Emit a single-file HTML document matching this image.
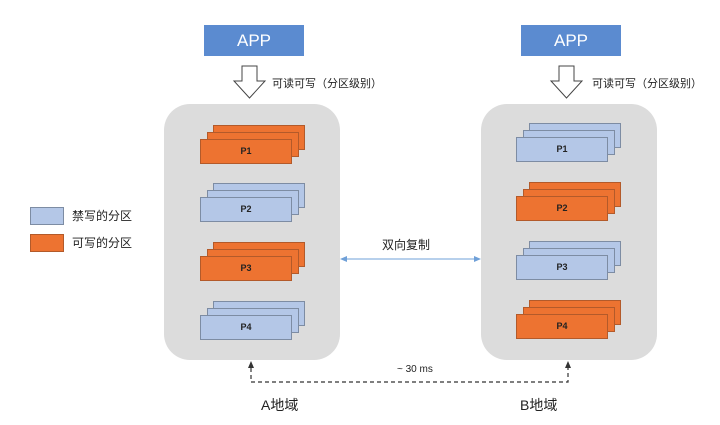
<!DOCTYPE html><html><head><style>
body{margin:0;width:720px;height:425px;background:#fff;position:relative;overflow:hidden;font-family:"Liberation Sans","Noto Sans CJK SC",sans-serif}
.a{position:absolute}
.app{background:#5b8bd0;color:#fff;font-size:17px;text-align:center;line-height:31px;width:100px;height:31px;top:25px}
.c{background:#dcdcdc;border-radius:26px;width:176px;height:256px;top:104px}
.r{position:absolute;width:92px;height:25px;border:1px solid #6c7a8f;box-sizing:border-box}
.o{background:#ed7331;border-color:#b35a2a}.b{background:#b4c7e7;border-color:#7d8ca3}
.lab{position:absolute;font-size:9px;font-weight:bold;color:#222;width:92px;text-align:center;line-height:25px}
.t{font-size:11px;color:#222}
</style></head><body>
<div class="a app" style="left:204px">APP</div>
<div class="a app" style="left:521px">APP</div>
<div class="a c" style="left:164px"></div>
<div class="a c" style="left:481px"></div>
<svg class="a" style="left:0;top:0" width="720" height="425">
<polygon points="242,66 257,66 257,81 265,81 249.5,98 234,81 242,81" fill="#fff" stroke="#444"/>
<polygon points="559,66 574,66 574,81 582,81 566.5,98 551,81 559,81" fill="#fff" stroke="#444"/>
<line x1="345" y1="259" x2="476" y2="259" stroke="#6fa0d8"/>
<polygon points="340,259 347,256 347,262" fill="#6fa0d8"/>
<polygon points="481,259 474,256 474,262" fill="#6fa0d8"/>
<path d="M251,368 V382 H568 V368" fill="none" stroke="#333" stroke-dasharray="4,3" stroke-width="1.2"/>
<polygon points="251,361 248,368 254,368" fill="#333"/>
<polygon points="568,361 565,368 571,368" fill="#333"/>
</svg>
<div class="a t" style="left:272px;top:75px">可读可写（分区级别）</div>
<div class="a t" style="left:592px;top:75px">可读可写（分区级别）</div>
<div class="a" style="left:30px;top:207px;width:32px;height:16px;background:#b4c7e7;border:1px solid #7d8ca3"></div>
<div class="a" style="left:30px;top:234px;width:32px;height:16px;background:#ed7331;border:1px solid #b35a2a"></div>
<div class="a t" style="left:72px;top:207px;font-size:12px">禁写的分区</div>
<div class="a t" style="left:72px;top:234px;font-size:12px">可写的分区</div>
<div class="a t" style="left:382px;top:236px;font-size:12px">双向复制</div>
<div class="a" style="left:397px;top:364px;font-size:10px;color:#222">~ 30 ms</div>
<div class="a" style="left:261px;top:395px;font-size:14px;color:#222">A地域</div>
<div class="a" style="left:520px;top:395px;font-size:14px;color:#222">B地域</div>
<div id="s"></div>
<script>
var d=[[200,139,'o','P1'],[200,197,'b','P2'],[200,256,'o','P3'],[200,315,'b','P4'],
[516,137,'b','P1'],[516,196,'o','P2'],[516,255,'b','P3'],[516,314,'o','P4']],h='';
d.forEach(function(x){for(var k=2;k>=0;k--){h+='<div class="r '+x[2]+'" style="left:'+(x[0]+k*6.5)+'px;top:'+(x[1]-k*7)+'px"></div>';}
h+='<div class="lab" style="left:'+x[0]+'px;top:'+x[1]+'px">'+x[3]+'</div>';});
document.getElementById('s').innerHTML=h;
</script>
</body></html>
